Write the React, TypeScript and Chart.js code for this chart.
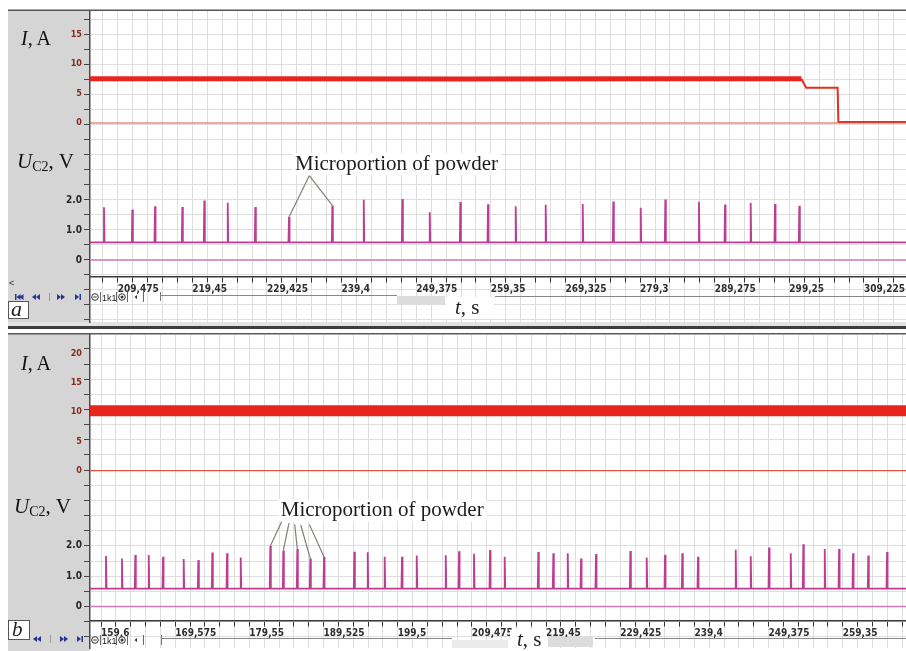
import React, { useEffect, useRef } from 'react';
import { Chart, registerables } from 'chart.js';

Chart.register(...registerables);

// ---------------- shared tick settings ----------------
const X_STEP = 1.995; // s between minor ticks
const X_LABEL_EVERY = 5; // label every 5th tick (9.975 s)
const U_LABELS = [0, 1, 2];
const NOTE_TEXT = 'Microportion of powder';

// ---------------- panel a ----------------
const A_TIME_RANGE = [205.77, 314.84];
const A_U_RANGE = [-2.067, 8.3];
const A_I_RANGE = [-33.67, 18.95];
const A_XAXIS_AT_U = -0.567;
const A_I_LABEL_MAX = 15;
const A_I_BAND_T = [205.77, 230.0, 255.0, 280.0, 300.85];
const A_I_BAND_V = [7.5, 7.5, 7.45, 7.5, 7.5];
const A_I_TAIL_T = [300.85, 301.5, 305.7, 305.8, 314.84];
const A_I_TAIL_V = [7.5, 5.97, 5.97, 0.17, 0.17];
const A_U_BASE = 0.59;
const A_SPIKE_T = [207.64, 211.43, 214.46, 218.11, 221.05, 224.18, 227.87, 232.37, 238.16, 242.36, 247.52, 251.18, 255.27, 258.97, 262.67, 266.68, 271.63, 275.72, 279.38, 282.67, 287.17, 290.65, 294.08, 297.33, 300.58];
const A_SPIKE_U = [1.76, 1.68, 1.79, 1.77, 1.98, 1.91, 1.77, 1.43, 1.82, 2.01, 2.03, 1.59, 1.93, 1.86, 1.79, 1.84, 1.87, 1.95, 1.74, 2.02, 1.94, 1.85, 1.91, 1.87, 1.81];
const A_NOTE_AT = [233.17, 3.0];
const A_LEADER_FROM_T = [235.08, 235.08];
const A_LEADER_FROM_U = [2.81, 2.81];
const A_LEADER_TO = [7, 8];

// ---------------- panel b ----------------
const B_TIME_RANGE = [158.12, 267.86];
const B_U_RANGE = [-1.37, 8.96];
const B_I_RANGE = [-30.2, 23.12];
const B_XAXIS_AT_U = -0.4785;
const B_I_LABEL_MAX = 20;
const B_I_BAND_T = [158.12, 190.0, 230.0, 267.86];
const B_I_BAND_V = [10.2, 10.2, 10.2, 10.2];
const B_U_BASE = 0.59;
const B_SPIKE_T = [160.27, 162.42, 164.21, 166.02, 167.94, 170.72, 172.69, 174.57, 176.55, 178.39, 182.37, 184.12, 186.0, 187.75, 189.59, 193.67, 195.47, 197.75, 200.08, 202.06, 205.96, 207.75, 209.76, 211.92, 213.89, 218.41, 220.43, 222.37, 224.16, 226.17, 230.79, 232.99, 235.45, 237.78, 239.89, 244.96, 246.98, 249.44, 252.36, 254.05, 256.93, 258.86, 260.74, 262.79, 265.31];
const B_SPIKE_U = [1.67, 1.58, 1.7, 1.7, 1.64, 1.57, 1.53, 1.78, 1.76, 1.62, 2.0, 1.85, 1.9, 1.58, 1.64, 1.81, 1.79, 1.64, 1.64, 1.68, 1.69, 1.82, 1.74, 1.86, 1.64, 1.8, 1.76, 1.76, 1.58, 1.73, 1.83, 1.62, 1.71, 1.76, 1.64, 1.87, 1.66, 1.95, 1.76, 2.05, 1.9, 1.9, 1.76, 1.68, 1.8];
const B_NOTE_AT = [183.77, 2.97];
const B_LEADER_FROM_T = [183.9, 184.88, 185.65, 186.46, 187.61];
const B_LEADER_FROM_U = [2.8, 2.75, 2.71, 2.69, 2.71];
const B_LEADER_TO = [10, 11, 12, 13, 14];

type Panel = {
  tRange: number[];
  uRange: number[];
  iRange: number[];
  xAxisAt: number;
  iLabelMax: number;
  bandT: number[];
  bandV: number[];
  bandWidth: number;
  tailT: number[] | null;
  tailV: number[] | null;
  uBase: number;
  spikeT: number[];
  spikeU: number[];
  noteAt: number[];
  fromT: number[];
  fromU: number[];
  to: number[];
  padTop: number;
  padBottom: number;
};

const PANEL_A: Panel = {
  tRange: A_TIME_RANGE, uRange: A_U_RANGE, iRange: A_I_RANGE, xAxisAt: A_XAXIS_AT_U,
  iLabelMax: A_I_LABEL_MAX, bandT: A_I_BAND_T, bandV: A_I_BAND_V, bandWidth: 5,
  tailT: A_I_TAIL_T, tailV: A_I_TAIL_V, uBase: A_U_BASE, spikeT: A_SPIKE_T, spikeU: A_SPIKE_U,
  noteAt: A_NOTE_AT, fromT: A_LEADER_FROM_T, fromU: A_LEADER_FROM_U, to: A_LEADER_TO,
  padTop: 11, padBottom: 8,
};

const PANEL_B: Panel = {
  tRange: B_TIME_RANGE, uRange: B_U_RANGE, iRange: B_I_RANGE, xAxisAt: B_XAXIS_AT_U,
  iLabelMax: B_I_LABEL_MAX, bandT: B_I_BAND_T, bandV: B_I_BAND_V, bandWidth: 11,
  tailT: null, tailV: null, uBase: B_U_BASE, spikeT: B_SPIKE_T, spikeU: B_SPIKE_U,
  noteAt: B_NOTE_AT, fromT: B_LEADER_FROM_T, fromU: B_LEADER_FROM_U, to: B_LEADER_TO,
  padTop: 9, padBottom: 11,
};

const SERIF = "'Liberation Serif', 'Times New Roman', serif";
const TICK_FAMILY = '"Liberation Sans Narrow", "DejaVu Sans Condensed", "Liberation Sans", sans-serif';

function pairs(ts: number[], vs: number[]) {
  return ts.map((t, i) => ({ x: t, y: vs[i] }));
}

function uSeries(p: Panel) {
  const pts = [{ x: p.tRange[0], y: p.uBase }];
  p.spikeT.forEach((t, i) => {
    pts.push({ x: t - 0.07, y: p.uBase }, { x: t, y: p.spikeU[i] }, { x: t + 0.07, y: p.uBase });
  });
  pts.push({ x: p.tRange[1], y: p.uBase });
  return pts;
}

function xTick(v: number) {
  const k = Math.round(v / X_STEP);
  if (k % X_LABEL_EVERY !== 0) return '';
  return String(+(k * X_STEP).toFixed(3)).replace('.', ',');
}

// lets the zero-width current axis draw its labels in the grey strip
const widenCurrentAxis = {
  id: 'widenCurrentAxis',
  afterLayout(chart: any) {
    const s = chart.scales.yI;
    if (s) {
      s.left = 8;
      s.width = s.right - s.left;
    }
  },
};

function notePlugin(p: Panel) {
  return {
    id: 'microportion',
    afterDatasetsDraw(chart: any) {
      const { ctx, scales } = chart;
      const xs = scales.x;
      const ys = scales.yU;
      ctx.save();
      ctx.font = `21px ${SERIF}`;
      const tx = xs.getPixelForValue(p.noteAt[0]);
      const ty = ys.getPixelForValue(p.noteAt[1]);
      const w = ctx.measureText(NOTE_TEXT).width;
      ctx.fillStyle = '#ffffff';
      ctx.fillRect(tx - 3, ty - 17, w + 6, 22);
      ctx.fillStyle = '#1c1c1c';
      ctx.textBaseline = 'alphabetic';
      ctx.textAlign = 'left';
      ctx.fillText(NOTE_TEXT, tx, ty);
      ctx.strokeStyle = '#8a7b79';
      ctx.lineWidth = 1.2;
      p.fromT.forEach((t, i) => {
        const k = p.to[i];
        ctx.beginPath();
        ctx.moveTo(xs.getPixelForValue(t), ys.getPixelForValue(p.fromU[i]));
        ctx.lineTo(xs.getPixelForValue(p.spikeT[k]), ys.getPixelForValue(p.spikeU[k]));
        ctx.stroke();
      });
      ctx.restore();
    },
  };
}

function buildConfig(p: Panel): any {
  const datasets: any[] = [
    {
      label: 'I zero',
      data: pairs(p.tRange, [0, 0]),
      yAxisID: 'yI',
      borderColor: '#e2553f',
      borderWidth: 1.2,
      pointRadius: 0,
    },
    {
      label: 'U zero',
      data: pairs(p.tRange, [0, 0]),
      yAxisID: 'yU',
      borderColor: '#d27cba',
      borderWidth: 1.6,
      pointRadius: 0,
    },
    {
      label: 'U_C2',
      data: uSeries(p),
      yAxisID: 'yU',
      borderColor: '#bd3d93',
      borderWidth: 1.8,
      pointRadius: 0,
    },
    {
      label: 'I',
      data: pairs(p.bandT, p.bandV),
      yAxisID: 'yI',
      borderColor: '#e6261e',
      borderWidth: p.bandWidth,
      pointRadius: 0,
    },
  ];
  if (p.tailT && p.tailV) {
    datasets.push({
      label: 'I tail',
      data: pairs(p.tailT, p.tailV),
      yAxisID: 'yI',
      borderColor: '#e5301f',
      borderWidth: 2,
      pointRadius: 0,
    });
  }
  return {
    type: 'line',
    data: { datasets },
    options: {
      animation: false,
      responsive: false,
      maintainAspectRatio: false,
      events: [],
      layout: { autoPadding: false, padding: { left: 8, top: p.padTop, right: 0, bottom: p.padBottom } },
      plugins: { legend: { display: false }, tooltip: { enabled: false } },
      scales: {
        x: {
          type: 'linear',
          min: p.tRange[0],
          max: p.tRange[1],
          position: { yU: p.xAxisAt },
          ticks: {
            stepSize: X_STEP,
            autoSkip: false,
            maxRotation: 0,
            includeBounds: false,
            align: 'start',
            padding: 1,
            color: '#2e2e2e',
            font: { family: TICK_FAMILY, size: 10, weight: 'bold' },
            callback: (v: any) => xTick(Number(v)),
          },
          grid: { color: '#dedede', lineWidth: 1, tickLength: 5, tickColor: '#333333', tickWidth: 1 },
          border: { color: '#3a3a3a', width: 1.5 },
        },
        yU: {
          type: 'linear',
          position: 'left',
          weight: 1,
          min: p.uRange[0],
          max: p.uRange[1],
          ticks: {
            stepSize: 0.5,
            autoSkip: false,
            includeBounds: false,
            padding: 2,
            color: '#262626',
            font: { family: TICK_FAMILY, size: 10, weight: 'bold' },
            callback: (v: any) => {
              const r = Math.round(Number(v) * 10) / 10;
              if (!U_LABELS.includes(r)) return '';
              return r === 0 ? '0' : r.toFixed(1);
            },
          },
          grid: { color: '#dedede', lineWidth: 1, tickLength: 6, tickColor: '#444444' },
          border: { color: '#4a4a4a', width: 1.5 },
          afterFit: (s: any) => {
            s.width = 82;
          },
        },
        yI: {
          type: 'linear',
          position: 'left',
          weight: 0,
          min: p.iRange[0],
          max: p.iRange[1],
          ticks: {
            stepSize: 5,
            autoSkip: false,
            includeBounds: false,
            padding: 2,
            color: '#8a2a1c',
            font: { family: TICK_FAMILY, size: 9, weight: 'bold' },
            callback: (v: any) => {
              const n = Math.round(Number(v));
              return n >= 0 && n <= p.iLabelMax && n % 5 === 0 ? String(n) : '';
            },
          },
          grid: { drawOnChartArea: false, color: 'rgba(0,0,0,0)', tickColor: 'rgba(0,0,0,0)', tickLength: 6 },
          border: { display: false },
          afterFit: (s: any) => {
            s.width = 0;
          },
        },
      },
    },
    plugins: [widenCurrentAxis, notePlugin(p)],
  };
}

function PanelChart({ panel, top, height }: { panel: Panel; top: number; height: number }) {
  const ref = useRef<HTMLCanvasElement>(null);
  useEffect(() => {
    const chart = new Chart(ref.current as HTMLCanvasElement, buildConfig(panel));
    return () => chart.destroy();
  }, [panel]);
  return (
    <canvas
      ref={ref}
      width={906}
      height={height}
      style={{ position: 'absolute', left: 0, top, width: 906, height, display: 'block' }}
    />
  );
}

const NAVY = '#26358f';

function TriL({ x, y }: { x: number; y: number }) {
  return <polygon points={`${x + 4},${y - 3} ${x},${y} ${x + 4},${y + 3}`} fill={NAVY} />;
}
function TriR({ x, y }: { x: number; y: number }) {
  return <polygon points={`${x},${y - 3} ${x + 4},${y} ${x},${y + 3}`} fill={NAVY} />;
}

function Widget({ x, y }: { x: number; y: number }) {
  return (
    <g>
      <circle cx={x + 4} cy={y} r={3.3} fill="#fff" stroke="#333" strokeWidth={1} />
      <line x1={x + 2.3} x2={x + 5.7} y1={y} y2={y} stroke="#333" strokeWidth={1} />
      <line x1={x + 9.5} x2={x + 9.5} y1={y - 5} y2={y + 5} stroke="#666" />
      <text x={x + 11} y={y + 3.5} fontFamily="'Liberation Sans', sans-serif" fontSize={9} fill="#222">
        1k1
      </text>
      <line x1={x + 25.5} x2={x + 25.5} y1={y - 5} y2={y + 5} stroke="#666" />
      <circle cx={x + 31} cy={y} r={3.3} fill="#fff" stroke="#333" strokeWidth={1} />
      <circle cx={x + 31} cy={y} r={1.5} fill="#333" />
      <line x1={x + 36.5} x2={x + 36.5} y1={y - 5} y2={y + 5} stroke="#666" />
      <polygon points={`${x + 46},${y - 2} ${x + 43.5},${y} ${x + 46},${y + 2}`} fill="#333" />
      <line x1={x + 52.5} x2={x + 52.5} y1={y - 5} y2={y + 5} stroke="#666" />
    </g>
  );
}

function Background() {
  return (
    <svg width={906} height={651} style={{ position: 'absolute', left: 0, top: 0 }}>
      <rect x={0} y={0} width={906} height={651} fill="#ffffff" />
      {/* panel a */}
      <rect x={8} y={10} width={82} height={312} fill="#d5d5d5" />
      <rect x={8} y={9.5} width={898} height={1.5} fill="#555" />
      <rect x={8} y={322} width={898} height={4} fill="#e3e3e3" />
      <rect x={8} y={326} width={898} height={3} fill="#3e3e3e" />
      {/* panel b */}
      <rect x={8} y={334} width={82} height={317} fill="#d5d5d5" />
      <rect x={8} y={333} width={898} height={1.5} fill="#5a5a5a" />
    </svg>
  );
}

function Overlay() {
  return (
    <svg width={906} height={651} style={{ position: 'absolute', left: 0, top: 0, pointerEvents: 'none' }}>
      {/* ---------- panel a ---------- */}
      <text x={21} y={45} fontFamily={SERIF} fontSize={20} fill="#111">
        <tspan fontStyle="italic">I</tspan>, A
      </text>
      <text x={17} y={168} fontFamily={SERIF} fontSize={21} fill="#111">
        <tspan fontStyle="italic">U</tspan>
        <tspan fontSize={14} dy={3}>C2</tspan>
        <tspan dy={-3}>, V</tspan>
      </text>
      <text x={9} y={286} fontFamily="'Liberation Sans', sans-serif" fontSize={9} fill="#333">
        &lt;
      </text>
      <rect x={15} y={294} width={1.5} height={6} fill={NAVY} />
      <TriL x={16.5} y={297} />
      <TriL x={19.5} y={297} />
      <TriL x={32} y={297} />
      <TriL x={36} y={297} />
      <line x1={49.5} x2={49.5} y1={293} y2={301} stroke="#9a9a9a" />
      <TriR x={57} y={297} />
      <TriR x={61} y={297} />
      <TriR x={75} y={297} />
      <rect x={79.5} y={294} width={1.5} height={6} fill={NAVY} />
      <rect x={8.5} y={301.5} width={20} height={17} fill="#fff" stroke="#555" strokeWidth={1} />
      <text x={11} y={316} fontFamily={SERIF} fontSize={22} fontStyle="italic" fill="#222">
        a
      </text>
      <Widget x={91} y={297} />
      <line x1={160.5} x2={160.5} y1={292} y2={301} stroke="#777" />
      <line x1={160} x2={397} y1={295.5} y2={295.5} stroke="#888" />
      <rect x={397} y={296} width={48} height={8} fill="#dcdcdc" />
      <rect x={446} y={297} width={48} height={22} fill="#ffffff" />
      <line x1={495} x2={906} y1={296.5} y2={296.5} stroke="#888" />
      <text x={455} y={314} fontFamily={SERIF} fontSize={21} fill="#222">
        <tspan fontStyle="italic">t</tspan>, s
      </text>

      {/* ---------- panel b ---------- */}
      <text x={21} y={370} fontFamily={SERIF} fontSize={20} fill="#111">
        <tspan fontStyle="italic">I</tspan>, A
      </text>
      <text x={14} y={513} fontFamily={SERIF} fontSize={21} fill="#111">
        <tspan fontStyle="italic">U</tspan>
        <tspan fontSize={14} dy={3}>C2</tspan>
        <tspan dy={-3}>, V</tspan>
      </text>
      <rect x={8.5} y={620.5} width={21} height={19} fill="#fff" stroke="#555" strokeWidth={1} />
      <text x={12} y={636} fontFamily={SERIF} fontSize={21} fontStyle="italic" fill="#222">
        b
      </text>
      <TriL x={33} y={639} />
      <TriL x={37} y={639} />
      <line x1={50.5} x2={50.5} y1={635} y2={643} stroke="#9a9a9a" />
      <TriR x={60} y={639} />
      <TriR x={64} y={639} />
      <TriR x={77} y={639} />
      <rect x={81.5} y={636} width={1.5} height={6} fill={NAVY} />
      <Widget x={91} y={640} />
      <line x1={161.5} x2={161.5} y1={635} y2={645} stroke="#777" />
      <line x1={161} x2={452} y1={638.5} y2={638.5} stroke="#888" />
      <rect x={452} y={640} width={56} height={8} fill="#ebebeb" />
      <rect x={510} y={630} width={37} height={21} fill="#ffffff" />
      <rect x={548} y={637} width={45} height={10} fill="#dcdcdc" />
      <line x1={595} x2={906} y1={638.5} y2={638.5} stroke="#888" />
      <text x={517} y={646} fontFamily={SERIF} fontSize={21} fill="#222">
        <tspan fontStyle="italic">t</tspan>, s
      </text>
    </svg>
  );
}

export default function App() {
  return (
    <div
      style={{
        position: 'fixed',
        left: 0,
        top: 0,
        width: 906,
        height: 651,
        overflow: 'hidden',
        background: '#ffffff',
      }}
    >
      <Background />
      <PanelChart panel={PANEL_A} top={0} height={330} />
      <PanelChart panel={PANEL_B} top={326} height={333} />
      <Overlay />
    </div>
  );
}
